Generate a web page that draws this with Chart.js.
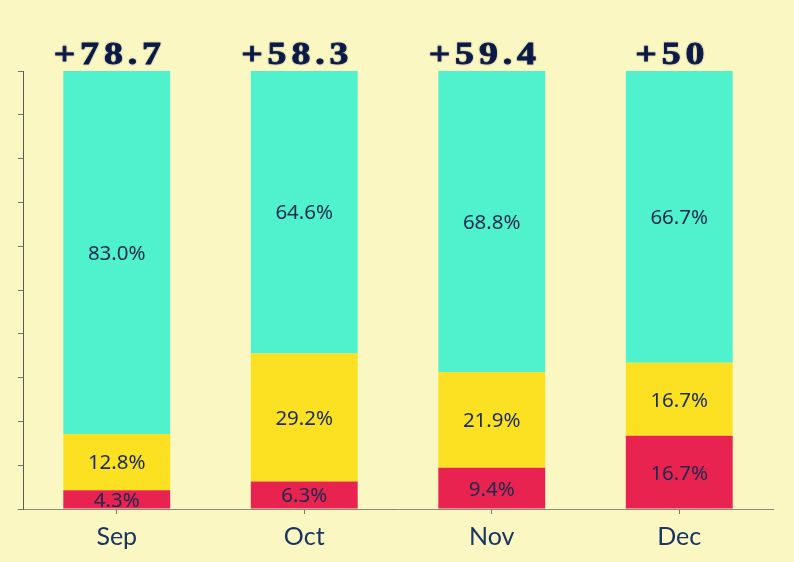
<!DOCTYPE html>
<html lang="en">
<head>
    <meta charset="UTF-8">
    <script src="https://cdn.jsdelivr.net/npm/chart.js"></script>
    <title>Monthly share</title>
    <style>
        html, body { margin: 0; padding: 0; background: #faf7c3; }
        #wrap { width: 794px; height: 562px; }
    </style>
</head>
<body>
    <div id="wrap"><canvas id="shareChart" width="794" height="562"></canvas></div>

    <script>
        const months = ['Sep', 'Oct', 'Nov', 'Dec'];
        const redShare = [4.3, 6.3, 9.4, 16.7];
        const yellowShare = [12.8, 29.2, 21.9, 16.7];
        const tealShare = [83.0, 64.6, 68.8, 66.7];
        const yTicks = [0, 10, 20, 30, 40, 50, 60, 70, 80, 90, 100];

        const textColor = '#1b2b4d';

        // percentage inside each segment
        const segmentLabels = {
            id: 'segmentLabels',
            afterDatasetsDraw(chart) {
                const ctx = chart.ctx;
                ctx.save();
                ctx.font = '20.5px "Noto Sans"';
                ctx.fillStyle = textColor;
                ctx.textAlign = 'center';
                ctx.textBaseline = 'middle';
                chart.data.datasets.forEach((ds, i) => {
                    chart.getDatasetMeta(i).data.forEach((bar, j) => {
                        const y = (bar.y + bar.base) / 2 + 1.5;
                        ctx.fillText(ds.data[j].toFixed(1) + '%', bar.x, y);
                    });
                });
                ctx.restore();
            }
        };

        // net value (teal minus red) above each bar, a bit stretched sideways
        const netLabels = {
            id: 'netLabels',
            afterDatasetsDraw(chart) {
                const ctx = chart.ctx;
                const top = chart.getDatasetMeta(2).data;
                top.forEach((bar, j) => {
                    const net = Math.round((tealShare[j] - redShare[j]) * 10) / 10;
                    ctx.save();
                    ctx.translate(bar.x - 7, chart.chartArea.top - 7);
                    ctx.scale(1.22, 1);
                    ctx.font = 'bold 31px "Liberation Serif"';
                    ctx.letterSpacing = '4px';
                    ctx.fillStyle = '#0c1a45';
                    ctx.strokeStyle = '#0c1a45';
                    ctx.lineWidth = 0.8;
                    ctx.textAlign = 'center';
                    ctx.textBaseline = 'alphabetic';
                    ctx.shadowColor = 'rgba(12, 26, 69, 0.35)';
                    ctx.shadowBlur = 2;
                    ctx.fillText('+' + net, 0, 0);
                    ctx.strokeText('+' + net, 0, 0);
                    ctx.restore();
                });
            }
        };

        const ctx = document.getElementById('shareChart').getContext('2d');
        new Chart(ctx, {
            type: 'bar',
            data: {
                labels: months,
                datasets: [
                    { data: redShare, backgroundColor: '#e8234f' },
                    { data: yellowShare, backgroundColor: '#fce122' },
                    { data: tealShare, backgroundColor: '#50f2cd' }
                ]
            },
            options: {
                responsive: false,
                animation: false,
                layout: {
                    padding: { left: 18, right: 21, top: 71, bottom: 2 }
                },
                datasets: {
                    bar: { barPercentage: 0.57, categoryPercentage: 1.0 }
                },
                plugins: {
                    legend: { display: false },
                    tooltip: { enabled: false }
                },
                scales: {
                    x: {
                        stacked: true,
                        grid: { drawOnChartArea: false, offset: false, tickLength: 5, color: '#77776e' },
                        border: { color: '#8a8a80' },
                        ticks: {
                            color: '#1a3560',
                            font: { family: 'Lato', size: 25 },
                            padding: 8
                        }
                    },
                    y: {
                        stacked: true,
                        min: 0,
                        max: 100,
                        afterBuildTicks: (axis) => {
                            axis.ticks = yTicks.map(v => ({ value: v }));
                        },
                        grid: { drawOnChartArea: false, tickLength: 5, color: '#77776e' },
                        border: { color: '#5c5c55' },
                        ticks: { display: false }
                    }
                }
            },
            plugins: [segmentLabels, netLabels]
        });
    </script>
</body>
</html>
